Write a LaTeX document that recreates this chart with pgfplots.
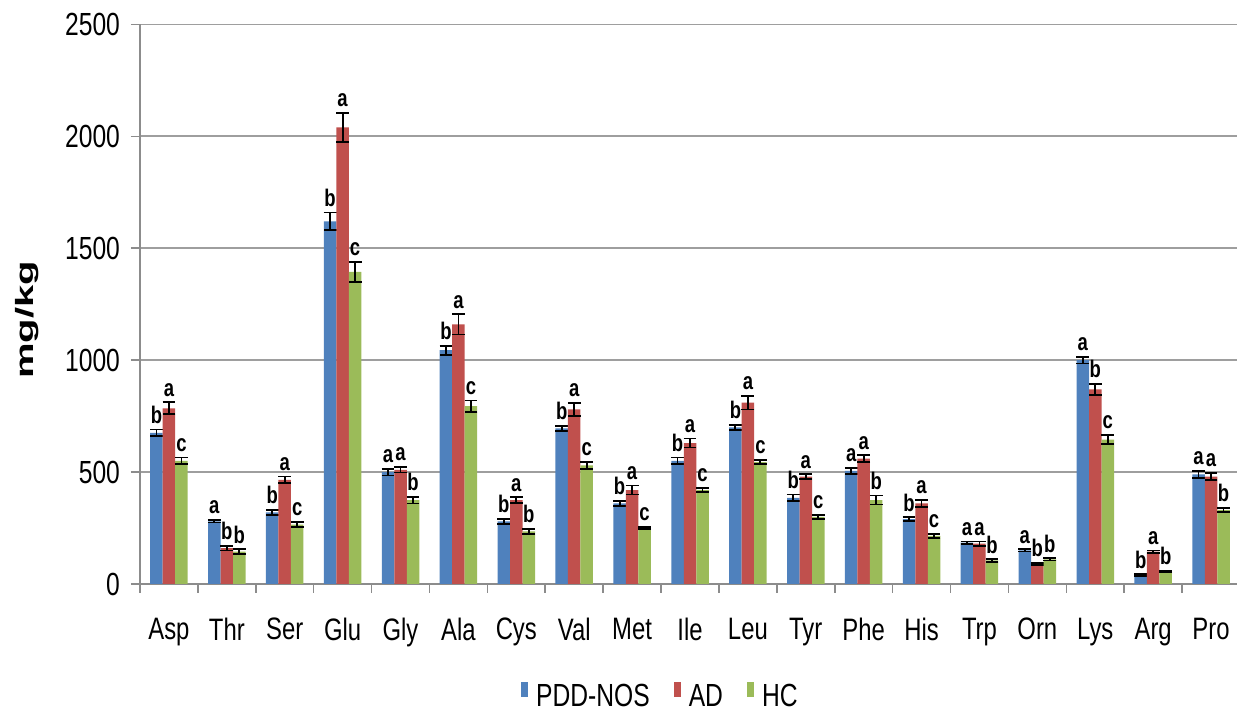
\documentclass[border=0pt]{standalone}
\usepackage{pgfplots}
\pgfplotsset{compat=1.18}
\usepackage{pgfplotstable}
\usepackage{fontspec}
\setmainfont{Liberation Sans}[FakeStretch=0.77]
\newfontfamily\ylfont{Liberation Sans}[FakeStretch=1.6]

\definecolor{cblue}{HTML}{4F81BD}
\definecolor{cred}{HTML}{C0504D}
\definecolor{cgreen}{HTML}{9BBB59}
\definecolor{axgray}{HTML}{8C8C8C}

% amino acid content (mg/kg): mean, error, significance letter
\pgfplotstableread{
x  y     e   l
0  675   15  b
1  280   5   a
2  320   12  b
3  1620  40  b
4  500   15  a
5  1045  20  b
6  280   12  b
7  695   12  b
8  360   12  b
9  550   15  b
10 700   12  b
11 385   15  b
12 505   15  a
13 290   8   b
14 185   5   a
15 150   5   a
16 1000  15  a
17 40    3   b
18 490   15  a
}\pddnos

\pgfplotstableread{
x  y     e   l
0  785   27  a
1  160   10  b
2  465   15  a
3  2040  65  a
4  510   12  a
5  1160  45  a
6  375   12  a
7  780   30  a
8  420   20  a
9  630   20  a
10 810   30  a
11 480   10  a
12 560   15  a
13 360   15  a
14 180   10  a
15 90    5   b
16 870   25  b
17 145   5   a
18 480   15  a
}\ad

\pgfplotstableread{
x  y     e   l
0  550   15  c
1  145   10  b
2  265   12  c
3  1395  45  c
4  375   15  b
5  795   25  c
6  235   12  b
7  530   15  c
8  250   5   c
9  420   10  c
10 545   10  c
11 300   10  c
12 375   20  b
13 215   8   c
14 105   5   b
15 110   5   b
16 645   20  c
17 55    3   b
18 330   10  b
}\hc

\pgfplotsset{
  grpbar/.style={
    draw=none, fill=#1,
    legend image code/.code={\fill[fill=#1] (0pt,0pt) rectangle (3.5pt,7.5pt);},
    error bars/.cd, y dir=both, y explicit,
      error bar style={black, line width=0.9pt},
      error mark options={rotate=90, black, mark size=3.2pt, line width=0.9pt},
    /pgfplots/.cd,
    nodes near coords, point meta=explicit symbolic,
    visualization depends on={\thisrow{e}*0.1119 \as \eshift},
    every node near coord/.append style={yshift=\eshift pt, black,
      font=\fontsize{12}{12}\selectfont\bfseries, inner sep=2.8pt},
  },
}

\begin{document}
\begin{tikzpicture}
\begin{axis}[
  scale only axis, width=550pt, height=279.75pt,
  xmin=-0.5, xmax=18.5, ymin=0, ymax=2500,
  ybar=0pt, bar width=6.25pt,
  axis lines*=left,
  axis line style={draw=axgray, line width=0.8pt},
  tick align=outside, major tick length=4.5pt,
  tick style={draw=axgray, line width=0.8pt},
  ytick={0,500,...,2500},
  /pgf/number format/.cd, 1000 sep={}, assume math mode=true, /pgfplots/.cd,
  ymajorgrids, grid style={draw=black!38, line width=0.9pt},
  xtick={-0.5,0.5,...,17.5},
  xticklabels={Asp,Thr,Ser,Glu,Gly,Ala,Cys,Val,Met,Ile,Leu,Tyr,Phe,His,Trp,Orn,Lys,Arg,Pro},
  extra x ticks={18.5}, extra x tick labels={},
  extra x tick style={grid=none},
  xticklabel style={font=\fontsize{15.5}{15.5}\selectfont, xshift=14.474pt, yshift=-9pt},
  yticklabel style={font=\fontsize{16}{16}\selectfont, xshift=-2pt},
  ylabel={\ylfont\bfseries mg/kg},
  ylabel style={at={(axis description cs:-0.103,0.472)}, anchor=center,
    font=\fontsize{12.5}{12.5}\selectfont},
  legend style={at={(axis description cs:0.474,-0.202)}, anchor=center,
    draw=none, fill=none, legend columns=3,
    font=\fontsize{16}{16}\selectfont,
    /tikz/every odd column/.style={column sep=2pt},
    /tikz/every even column/.style={column sep=10pt}},
  clip=false,
]
\addplot[grpbar=cblue]  table[x=x, y=y, y error=e, meta=l] {\pddnos};
\addplot[grpbar=cred]   table[x=x, y=y, y error=e, meta=l] {\ad};
\addplot[grpbar=cgreen] table[x=x, y=y, y error=e, meta=l] {\hc};
\legend{PDD-NOS, AD, HC}
\end{axis}
\pgfresetboundingbox
\path ([shift={(-70pt,-63.5pt)}]current axis.south west)
  rectangle ([shift={(-1.5pt,12.25pt)}]current axis.north east);
\end{tikzpicture}
\end{document}
